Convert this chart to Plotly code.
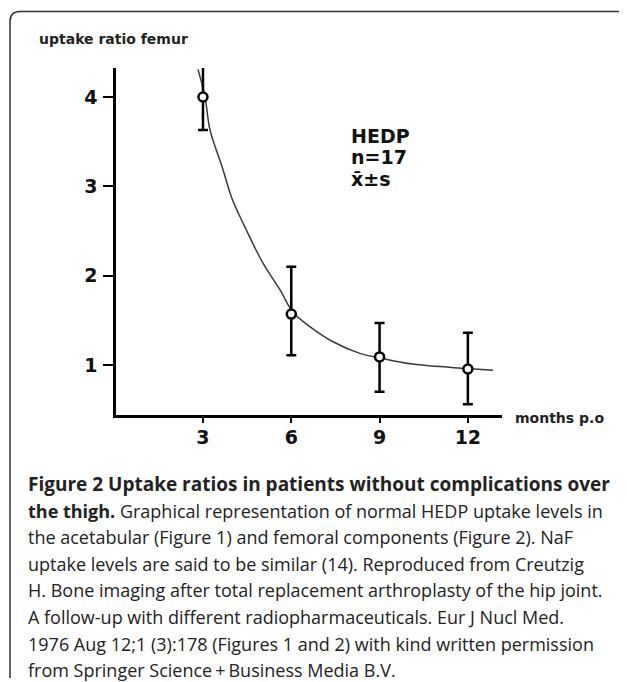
import plotly.graph_objects as go

# ---------------- data ----------------
months = [3, 6, 9, 12]
uptake_mean = [4.00, 1.57, 1.09, 0.955]
uptake_sd_plus = [0.41, 0.53, 0.38, 0.405]
uptake_sd_minus = [0.37, 0.46, 0.39, 0.395]

curve_x = [2.83, 3.07, 3.24, 3.65, 3.98, 4.36, 5.04, 5.62, 6.06, 6.63, 7.42, 8.33, 9.01, 10.13, 11.97, 12.85]
curve_y = [4.31, 4.00, 3.63, 3.22, 2.87, 2.59, 2.14, 1.84, 1.59, 1.43, 1.26, 1.13, 1.08, 1.01, 0.96, 0.94]

x_ticks = [3, 6, 9, 12]
y_ticks = [1, 2, 3, 4]

y_title = "uptake ratio femur"
x_title = "months p.o"
legend_lines = ["HEDP", "n=17", "x\u0304\u00b1s"]

caption_title = "Figure 2 Uptake ratios in patients without complications over"
caption_lines = [
    "<b>the thigh.</b> Graphical representation of normal HEDP uptake levels in",
    "the acetabular (Figure 1) and femoral components (Figure 2). NaF",
    "uptake levels are said to be similar (14). Reproduced from Creutzig",
    "H. Bone imaging after total replacement arthroplasty of the hip joint.",
    "A follow-up with different radiopharmaceuticals. Eur J Nucl Med.",
    "1976 Aug 12;1 (3):178 (Figures 1 and 2) with kind written permission",
    "from Springer Science\u2009+\u2009Business Media B.V.",
]

# ---------------- layout geometry ----------------
# page body has an 8px default margin; positions below are page pixels
OFF = 8
PAGE_W, PAGE_H = 627, 682
W, H = PAGE_W - OFF, PAGE_H - OFF
AX_LEFT, AX_RIGHT, AX_TOP, AX_BOTTOM = 116, 502, 68, 415  # page pixels
L = AX_LEFT - OFF
T = AX_TOP - OFF
R = W - (AX_RIGHT - OFF)
B = H - (AX_BOTTOM - OFF)
PW, PH = W - L - R, H - T - B


def px(xp):
    return (xp - AX_LEFT) / PW


def py(yp):
    return (AX_BOTTOM - yp) / PH


fig = go.Figure()

fig.add_trace(go.Scatter(
    x=curve_x, y=curve_y, mode="lines", line=dict(color="#3a3a3a", width=1.5, shape="spline"),
    hoverinfo="skip", showlegend=False))

fig.add_trace(go.Scatter(
    x=months, y=uptake_mean, mode="markers",
    marker=dict(symbol="circle", size=9, color="white", line=dict(color="black", width=2.5)),
    error_y=dict(type="data", symmetric=False, array=uptake_sd_plus, arrayminus=uptake_sd_minus,
                 color="black", thickness=2.5, width=5),
    showlegend=False))

tick_font = dict(family="DejaVu Sans, sans-serif", size=19, color="#111", weight="bold")

fig.update_xaxes(range=[0.045, 13.16], tickvals=x_ticks, ticktext=[str(v) for v in x_ticks],
                 showline=True, linecolor="black", linewidth=2.5, ticks="outside", ticklen=5,
                 tickwidth=1.5, tickcolor="black", showgrid=False, zeroline=False,
                 tickfont=tick_font, ticklabelstandoff=-2)
fig.update_yaxes(range=[0.44, 4.325], tickvals=y_ticks, ticktext=[str(v) for v in y_ticks],
                 showline=True, linecolor="black", linewidth=2.5, ticks="outside", ticklen=10,
                 tickwidth=1.5, tickcolor="black", showgrid=False, zeroline=False,
                 tickfont=tick_font, ticklabelstandoff=2)

annotations = []
annotations.append(dict(text=y_title, x=px(37), y=py(39), xref="paper", yref="paper",
                        xanchor="left", yanchor="middle", showarrow=False,
                        font=dict(family="DejaVu Sans, sans-serif", size=14, color="#222", weight="bold")))
annotations.append(dict(text=x_title, x=px(513), y=py(418), xref="paper", yref="paper",
                        xanchor="left", yanchor="middle", showarrow=False,
                        font=dict(family="DejaVu Sans, sans-serif", size=14, color="#222", weight="bold")))
legend_y = [136, 157, 179]
for txt, yy in zip(legend_lines, legend_y):
    annotations.append(dict(text=txt, x=px(349), y=py(yy), xref="paper", yref="paper",
                            xanchor="left", yanchor="middle", showarrow=False,
                            font=dict(family="DejaVu Sans, sans-serif", size=19, color="#111", weight="bold")))

annotations.append(dict(text=caption_title, x=px(26), y=py(484), xref="paper", yref="paper",
                        xanchor="left", yanchor="middle", showarrow=False,
                        font=dict(family="Open Sans, sans-serif", size=19, color="#222", weight="bold")))
for i, line in enumerate(caption_lines):
    annotations.append(dict(text=line, x=px(26), y=py(484 + 26.6 * (i + 1)), xref="paper", yref="paper",
                            xanchor="left", yanchor="middle", showarrow=False,
                            font=dict(family="Open Sans, sans-serif", size=18, color="#222")))

# border (rounded top-left corner, open right side)
bx, by_top, by_bot, rad = 10, 11.5, 678, 10
path = (f"M {px(PAGE_W + 2)},{py(by_top)} L {px(bx + rad)},{py(by_top)} "
        f"Q {px(bx)},{py(by_top)} {px(bx)},{py(by_top + rad)} "
        f"L {px(bx)},{py(by_bot)}")
shapes = [dict(type="path", path=path, xref="paper", yref="paper",
               line=dict(color="#333", width=1.5))]

fig.update_layout(width=W, height=H, margin=dict(l=L, r=R, t=T, b=B, autoexpand=False),
                  plot_bgcolor="white", paper_bgcolor="white",
                  annotations=annotations, shapes=shapes)

fig.write_html("out.html")
